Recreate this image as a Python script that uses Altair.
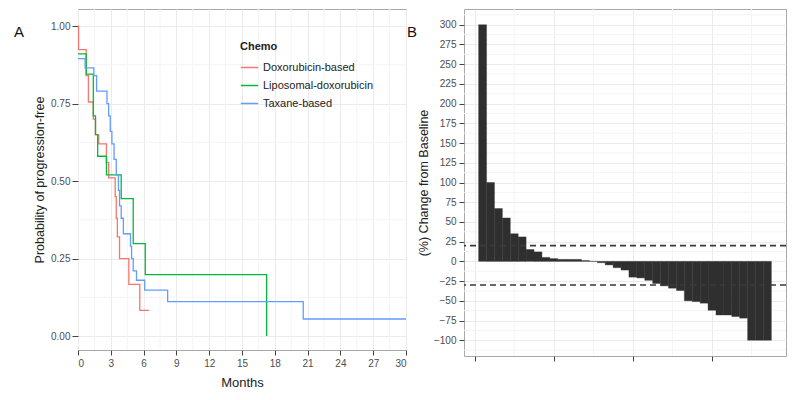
import altair as alt
import pandas as pd

# ---------------- Panel A: Kaplan-Meier curves ----------------
chemo_groups = ["Doxorubicin-based", "Liposomal-doxorubicin", "Taxane-based"]
chemo_colors = ["#F8766D", "#00BA38", "#619CFF"]

dox_months = [0, 0.05, 0.75, 0.95, 1.4, 1.6, 1.9, 2.6, 2.8, 3.4, 3.5, 3.6, 3.8, 4.65, 5.65, 6.5]
dox_surv = [1.0, 0.924, 0.84, 0.755, 0.70, 0.65, 0.62, 0.56, 0.51, 0.45, 0.38, 0.32, 0.25, 0.167, 0.083, 0.083]

lipo_months = [0, 0.75, 1.4, 1.6, 1.8, 2.6, 3.95, 5.05, 6.15, 17.25]
lipo_surv = [0.91, 0.845, 0.71, 0.65, 0.58, 0.52, 0.443, 0.298, 0.198, 0.0]

tax_months = [0, 0.65, 1.45, 1.7, 2.65, 2.8, 2.95, 3.1, 3.3, 3.5, 3.7, 3.8, 3.95, 4.15,
              4.8, 4.9, 5.05, 5.35, 6.1, 8.2, 20.6, 30]
tax_surv = [0.895, 0.865, 0.84, 0.79, 0.75, 0.71, 0.66, 0.62, 0.57, 0.52, 0.47, 0.42, 0.38, 0.33,
            0.29, 0.25, 0.21, 0.18, 0.148, 0.111, 0.055, 0.055]

km_x_ticks = [0, 3, 6, 9, 12, 15, 18, 21, 24, 27, 30]
km_x_minor = [1.5, 4.5, 7.5, 10.5, 13.5, 16.5, 19.5, 22.5, 25.5, 28.5]
km_y_ticks = [0, 0.25, 0.5, 0.75, 1.0]
km_y_minor = [0.125, 0.375, 0.625, 0.875]

# ---------------- Panel B: waterfall ----------------
change_values = [300, 100, 67, 55, 35, 31, 15, 12, 5, 3.5, 2.5, 2.5, 2.5, 1, 0,
                 -1.7, -4.5, -8, -11, -20, -21, -24, -28, -31, -34, -37, -50, -51, -53,
                 -62, -68, -68, -70, -72, -100, -100, -100]
change_y_ticks = list(range(-100, 301, 25))
change_y_minor = [v + 12.5 for v in range(-125, 301, 25)]
change_x_ticks = [0, 10, 20, 30]
change_x_minor = [5, 15, 25, 35]
threshold_values = [20, -30]

FONT = "Liberation Sans"
GRID = "#EBEBEB"
MINOR = "#F4F4F4"

km_rows = []
for g, ts, ss in [(chemo_groups[0], dox_months, dox_surv),
                  (chemo_groups[1], lipo_months, lipo_surv),
                  (chemo_groups[2], tax_months, tax_surv)]:
    for t, s in zip(ts, ss):
        km_rows.append({"group": g, "t": t, "s": s})
km = pd.DataFrame(km_rows)

xA = alt.Scale(domain=[0, 30], nice=False, zero=False)
yA = alt.Scale(domain=[-0.045, 1.055], nice=False, zero=False)
axA_x = alt.Axis(values=km_x_ticks, title="Months", format="d", grid=True,
                 titleFontSize=13, titlePadding=8, labelPadding=3, tickSize=5)
axA_y = alt.Axis(values=km_y_ticks, format=".2f", grid=True,
                 title="Probability of progression-free",
                 titleFontSize=12.5, titlePadding=4, labelPadding=2, tickSize=6)

minorA_x = alt.Chart(pd.DataFrame({"t": km_x_minor})).mark_rule(color=MINOR, strokeWidth=1).encode(
    x=alt.X("t:Q", scale=xA, axis=axA_x))
minorA_y = alt.Chart(pd.DataFrame({"s": km_y_minor})).mark_rule(color=MINOR, strokeWidth=1).encode(
    y=alt.Y("s:Q", scale=yA, axis=axA_y))

km_lines = alt.Chart(km).mark_line(interpolate="step-after", strokeWidth=1.3).encode(
    x=alt.X("t:Q", scale=xA, axis=axA_x),
    y=alt.Y("s:Q", scale=yA, axis=axA_y),
    color=alt.Color("group:N", scale=alt.Scale(domain=chemo_groups, range=chemo_colors),
                    legend=alt.Legend(title="Chemo", orient="none", legendX=162, legendY=32,
                                      titleFont=FONT, titleFontSize=11, titleFontWeight="bold",
                                      titleColor="#222222", titlePadding=6,
                                      labelFont=FONT, labelFontSize=11, labelColor="#222222",
                                      labelOffset=4, symbolType="stroke", symbolSize=300,
                                      symbolStrokeWidth=1.5, rowPadding=3, padding=0)),
)

label_A = alt.Chart(pd.DataFrame({"lab": ["A"]})).mark_text(
    font=FONT, fontSize=15, color="#111111", align="center", baseline="middle").encode(
    text="lab:N", x=alt.value(-59), y=alt.value(23))

panel_A = alt.layer(minorA_x, minorA_y, km_lines, label_A).properties(width=328, height=341)

# ---------------- Panel B ----------------
bars = pd.DataFrame({
    "idx": list(range(1, len(change_values) + 1)),
    "val": change_values,
})
bars["lo"] = bars["idx"] - 0.5
bars["hi"] = bars["idx"] + 0.5
bars["zero"] = 0

xB = alt.Scale(domain=[-1.35, 39.35], nice=False, zero=False)
yB = alt.Scale(domain=[-120, 320], nice=False, zero=False)
axB_x = alt.Axis(values=change_x_ticks, labels=False, title=None, grid=True, tickSize=5)
axB_y = alt.Axis(values=change_y_ticks, grid=True, title="(%) Change from Baseline",
                 titleFontSize=12.5, titlePadding=3, labelPadding=3, tickSize=5)

minorB_x = alt.Chart(pd.DataFrame({"lo": change_x_minor})).mark_rule(color=MINOR, strokeWidth=1).encode(
    x=alt.X("lo:Q", scale=xB, axis=axB_x))
minorB_y = alt.Chart(pd.DataFrame({"val": change_y_minor})).mark_rule(color=MINOR, strokeWidth=1).encode(
    y=alt.Y("val:Q", scale=yB, axis=axB_y))

bar_layer = alt.Chart(bars).mark_bar(color="#2F2F2F", stroke="#2F2F2F", strokeWidth=0.4).encode(
    x=alt.X("lo:Q", scale=xB, axis=axB_x),
    x2="hi:Q",
    y=alt.Y("val:Q", scale=yB, axis=axB_y),
    y2="zero:Q",
)

thresholds = alt.Chart(pd.DataFrame({"val": threshold_values})).mark_rule(
    color="#3A3A3A", strokeWidth=1.6, strokeDash=[6, 4]).encode(
    y=alt.Y("val:Q", scale=yB, axis=axB_y))

label_B = alt.Chart(pd.DataFrame({"lab": ["B"]})).mark_text(
    font=FONT, fontSize=15, color="#111111", align="center", baseline="middle").encode(
    text="lab:N", x=alt.value(-52), y=alt.value(23))

panel_B = alt.layer(minorB_x, minorB_y, bar_layer, thresholds, label_B).properties(width=322, height=347)

chart = alt.hconcat(panel_A, panel_B, spacing=-4).properties(
    padding={"left": 5, "top": 0, "right": 0, "bottom": 0},
    background="white",
).configure_view(
    stroke="#A8A8A8", strokeWidth=1
).configure_axis(
    labelFont=FONT, labelFontSize=10, labelColor="#4D4D4D",
    titleFont=FONT, titleColor="#222222", titleFontWeight="normal",
    tickColor="#444444", tickWidth=1, domain=False, gridColor=GRID, gridWidth=1,
)

chart.save("out.html", embed_options={"renderer": "svg", "actions": False})
